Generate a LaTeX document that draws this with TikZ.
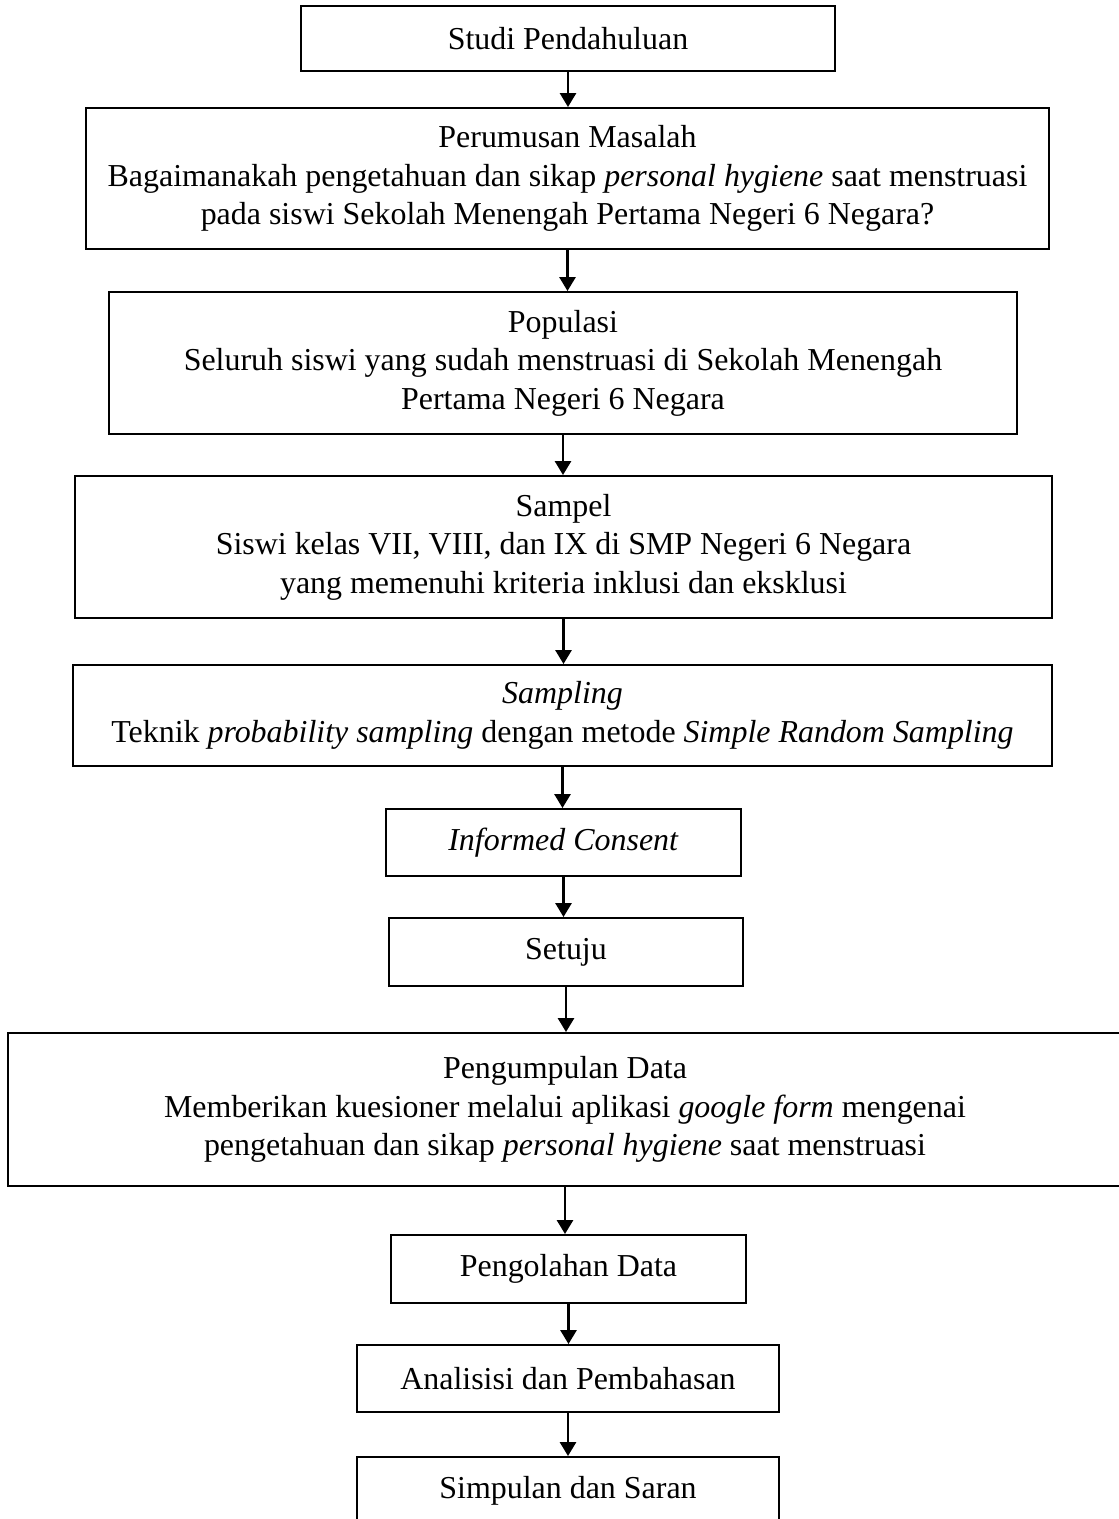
\documentclass[tikz,border=0pt]{standalone}
\usepackage{fontspec}
\setmainfont{Liberation Serif}
\usetikzlibrary{arrows.meta}

\begin{document}
\begin{tikzpicture}[x=0.3757pt, y=-0.3757pt,
  box/.style 2 args={draw, line width=0.75pt, minimum width=#1*0.3757pt, minimum height=#2*0.3757pt, inner sep=0pt, align=center, font=\fontsize{12}{14.5}\selectfont},
  arr/.style={-{Triangle[width=6pt,length=5.2pt]}, line width=0.9pt}]

\useasboundingbox (0,0) rectangle (1118,1519);

\node[box={534}{65}] (n1) at (568,38.5) {Studi Pendahuluan};
\node[box={963}{141}] (n2) at (567.5,178.5) {Perumusan Masalah\\Bagaimanakah pengetahuan dan sikap \textit{personal hygiene} saat menstruasi\\pada siswi Sekolah Menengah Pertama Negeri 6 Negara?};
\node[box={908}{142}] (n3) at (563,363) {Populasi\\Seluruh siswi yang sudah menstruasi di Sekolah Menengah\\Pertama Negeri 6 Negara};
\node[box={977}{142}] (n4) at (563.5,547) {Sampel\\Siswi kelas VII, VIII, dan IX di SMP Negeri 6 Negara\\yang memenuhi kriteria inklusi dan eksklusi};
\node[box={979}{101}] (n5) at (562.5,715.5) {\textit{Sampling}\\Teknik \textit{probability sampling} dengan metode \textit{Simple Random Sampling}};
\node[box={355}{67}] (n6) at (563.5,842.5) {\textit{Informed Consent}};
\node[box={354}{68}] (n7) at (566,952) {Setuju};
\node[box={1114}{153}] (n8) at (565,1109.5) {Pengumpulan Data\\Memberikan kuesioner melalui aplikasi \textit{google form} mengenai\\pengetahuan dan sikap \textit{personal hygiene} saat menstruasi};
\node[box={355}{68}] (n9) at (568.5,1269) {Pengolahan Data};
\node[box={422}{67}] (n10) at (568,1378.5) {Analisisi dan Pembahasan};
\node[box={422}{68}] (n11) at (568,1491) {Simpulan dan Saran};

\draw[arr] (n1.south) -- (n1.south |- n2.north);
\draw[arr] (n2.south) -- (n2.south |- n3.north);
\draw[arr] (n3.south) -- (n3.south |- n4.north);
\draw[arr] (n4.south) -- (n4.south |- n5.north);
\draw[arr] (n5.south) -- (n5.south |- n6.north);
\draw[arr] (n6.south) -- (n6.south |- n7.north);
\draw[arr] (n7.south) -- (n7.south |- n8.north);
\draw[arr] (n8.south) -- (n8.south |- n9.north);
\draw[arr] (n9.south) -- (n9.south |- n10.north);
\draw[arr] (n10.south) -- (n10.south |- n11.north);

\end{tikzpicture}
\end{document}
